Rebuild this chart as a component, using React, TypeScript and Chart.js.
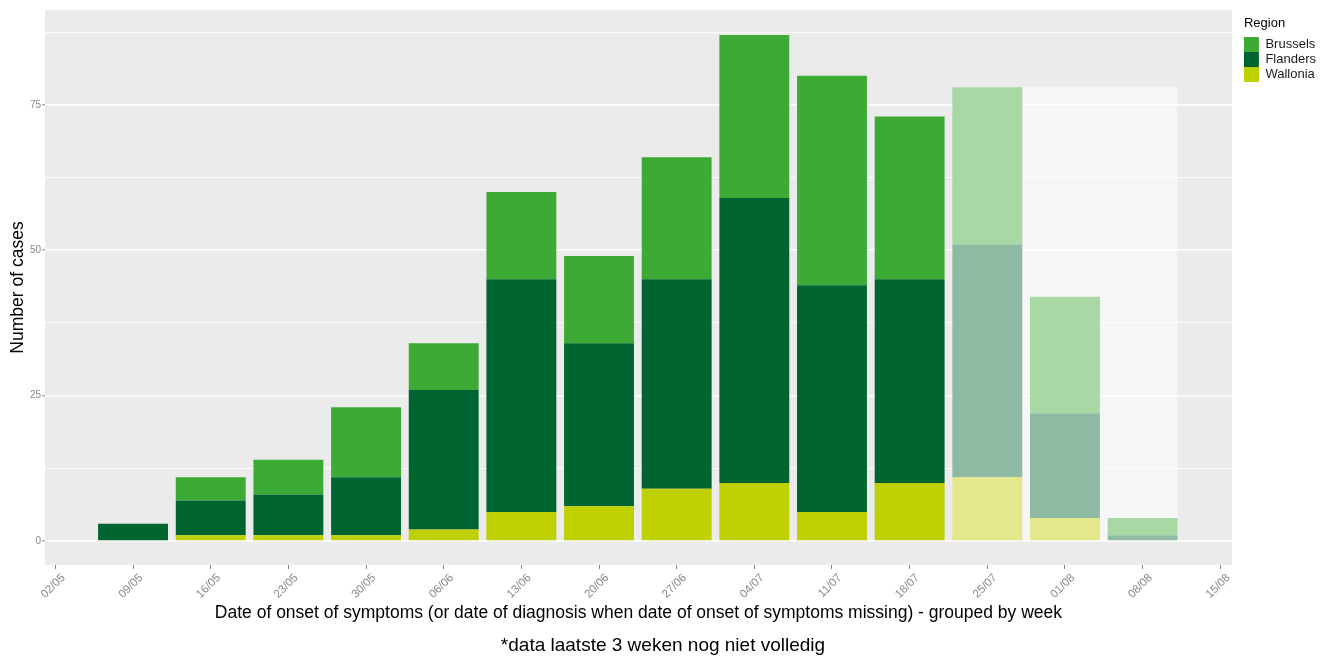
import React, { useEffect, useRef } from 'react';
import { Chart, registerables } from 'chart.js';

Chart.register(...registerables);

// ---- data ----
const TICK_LABELS = ['02/05', '09/05', '16/05', '23/05', '30/05', '06/06', '13/06', '20/06', '27/06', '04/07', '11/07', '18/07', '25/07', '01/08', '08/08', '15/08'];
const WEEKS = ['09/05', '16/05', '23/05', '30/05', '06/06', '13/06', '20/06', '27/06', '04/07', '11/07', '18/07', '25/07', '01/08', '08/08'];
const WALLONIA = [0, 1, 1, 1, 2, 5, 6, 9, 10, 5, 10, 11, 4, 0];
const FLANDERS = [3, 6, 7, 10, 24, 40, 28, 36, 49, 39, 35, 40, 18, 1];
const BRUSSELS = [0, 4, 6, 12, 8, 15, 15, 21, 28, 36, 28, 27, 20, 3];
const INCOMPLETE_WEEKS = ['25/07', '01/08', '08/08'];
const X_RANGE = [-0.134, 15.15];
const Y_RANGE = [-4.1, 91.3];
const Y_MINOR_STEP = 12.5;
const Y_MAJOR_STEP = 25;

const FONT = '"Liberation Sans", Arial, sans-serif';

const COLORS = {
  Brussels: ['#3caa35', '#a8d8a3'],
  Flanders: ['#006430', '#8ebaa3'],
  Wallonia: ['#bed000', '#e2e88b'],
};

const isIncomplete = (i: number) => INCOMPLETE_WEEKS.includes(WEEKS[i]);

const toPoints = (vals: number[]) => vals.map((v, i) => ({ x: TICK_LABELS.indexOf(WEEKS[i]), y: v }));

const makeDataset = (label: 'Brussels' | 'Flanders' | 'Wallonia', vals: number[]) => ({
  label,
  data: toPoints(vals),
  backgroundColor: (c: any) =>
    c.type === 'data' && isIncomplete(c.dataIndex) ? COLORS[label][1] : COLORS[label][0],
  borderWidth: 0,
  categoryPercentage: 0.9,
  barPercentage: 1,
  stack: 's',
});

const panelBackground = {
  id: 'panelBackground',
  beforeDraw(chart: any) {
    const { ctx, chartArea } = chart;
    ctx.save();
    ctx.fillStyle = '#ebebeb';
    ctx.fillRect(chartArea.left, chartArea.top, chartArea.right - chartArea.left, chartArea.bottom - chartArea.top);
    ctx.restore();
  },
};

const incompleteOverlay = {
  id: 'incompleteOverlay',
  beforeDatasetsDraw(chart: any) {
    const { ctx, scales } = chart;
    const meta = chart.getDatasetMeta(0);
    const firstIdx = WEEKS.indexOf(INCOMPLETE_WEEKS[0]);
    const lastIdx = WEEKS.indexOf(INCOMPLETE_WEEKS[INCOMPLETE_WEEKS.length - 1]);
    const a = meta.data[firstIdx];
    const b = meta.data[lastIdx];
    if (!a || !b) return;
    const pa = a.getProps(['x', 'width'], true);
    const pb = b.getProps(['x', 'width'], true);
    const totals = INCOMPLETE_WEEKS.map((w) => {
      const i = WEEKS.indexOf(w);
      return WALLONIA[i] + FLANDERS[i] + BRUSSELS[i];
    });
    const top = scales.y.getPixelForValue(Math.max(...totals));
    const bottom = scales.y.getPixelForValue(0);
    const left = pa.x + pa.width / 2;
    const right = pb.x + pb.width / 2;
    ctx.save();
    ctx.fillStyle = 'rgba(255,255,255,0.55)';
    ctx.fillRect(left, top, right - left, bottom - top);
    ctx.restore();
  },
};

export default function App() {
  const canvasRef = useRef<HTMLCanvasElement>(null);

  useEffect(() => {
    document.body.style.margin = '0';
    Chart.defaults.font.family = FONT;
    const chart = new Chart(canvasRef.current as HTMLCanvasElement, {
      type: 'bar',
      data: {
        datasets: [
          makeDataset('Wallonia', WALLONIA),
          makeDataset('Flanders', FLANDERS),
          makeDataset('Brussels', BRUSSELS),
        ],
      },
      options: {
        animation: false,
        responsive: true,
        maintainAspectRatio: false,
        layout: { padding: { top: 10, right: 4, bottom: 0, left: 0 } },
        scales: {
          x: {
            type: 'linear',
            stacked: true,
            offset: false,
            min: X_RANGE[0],
            max: X_RANGE[1],
            afterFit: (s: any) => {
              s.height = 69.2;
            },
            ticks: {
              stepSize: 1,
              includeBounds: false,
              autoSkip: false,
              maxRotation: 45,
              minRotation: 45,
              padding: 2,
              labelOffset: 8,
              color: '#888888',
              font: { size: 11.5, family: FONT },
              callback: (v: any) => (Number.isInteger(v) ? TICK_LABELS[v] : ''),
            },
            grid: {
              offset: false,
              drawOnChartArea: false,
              drawTicks: true,
              tickLength: 4,
              tickColor: '#888888',
              tickWidth: 1,
            },
            border: { display: false },
            title: {
              display: true,
              text: 'Date of onset of symptoms (or date of diagnosis when date of onset of symptoms missing) - grouped by week',
              color: '#000000',
              font: { size: 17.5, family: FONT },
              padding: { top: 0, bottom: 10.4 },
            },
          },
          y: {
            type: 'linear',
            stacked: true,
            min: Y_RANGE[0],
            max: Y_RANGE[1],
            afterFit: (s: any) => {
              s.width = 45;
            },
            ticks: {
              stepSize: Y_MINOR_STEP,
              includeBounds: false,
              padding: 1,
              color: '#888888',
              font: { size: 10, family: FONT },
              callback: (v: any) => (v % Y_MAJOR_STEP === 0 ? String(v) : ''),
            },
            grid: {
              color: '#ffffff',
              lineWidth: (c: any) => (c.tick && c.tick.value % Y_MAJOR_STEP === 0 ? 1.6 : 0.8),
              tickLength: 3,
              tickColor: (c: any) => (c.tick && c.tick.value % Y_MAJOR_STEP === 0 ? '#888888' : 'rgba(0,0,0,0)'),
              tickWidth: 1,
            },
            border: { display: false },
            title: {
              display: true,
              text: 'Number of cases',
              color: '#000000',
              font: { size: 17.5, family: FONT },
              padding: { top: 8, bottom: 0 },
            },
          },
          gap: {
            type: 'linear',
            position: 'right',
            display: true,
            afterFit: (s: any) => {
              s.width = 12;
            },
            ticks: { display: false },
            grid: { display: false },
            border: { display: false },
          },
        },
        plugins: {
          legend: {
            position: 'right',
            align: 'start',
            reverse: true,
            title: {
              display: true,
              text: 'Region',
              position: 'start',
              color: '#000000',
              font: { size: 13, family: FONT },
              padding: { top: 6.5, bottom: 4.9 },
            },
            labels: {
              boxWidth: 15,
              boxHeight: 15,
              padding: 0,
              color: '#1a1a1a',
              font: { size: 13, family: FONT },
            },
          },
          subtitle: {
            display: true,
            position: 'bottom',
            text: '*data laatste 3 weken nog niet volledig',
            color: '#000000',
            font: { size: 19, family: FONT },
            padding: { top: 0, bottom: 0 },
          },
          tooltip: { enabled: false },
        },
      },
      plugins: [panelBackground, incompleteOverlay],
    } as any);
    return () => chart.destroy();
  }, []);

  return (
    <div style={{ position: 'relative', width: 1330, height: 657 }}>
      <canvas ref={canvasRef} />
    </div>
  );
}
